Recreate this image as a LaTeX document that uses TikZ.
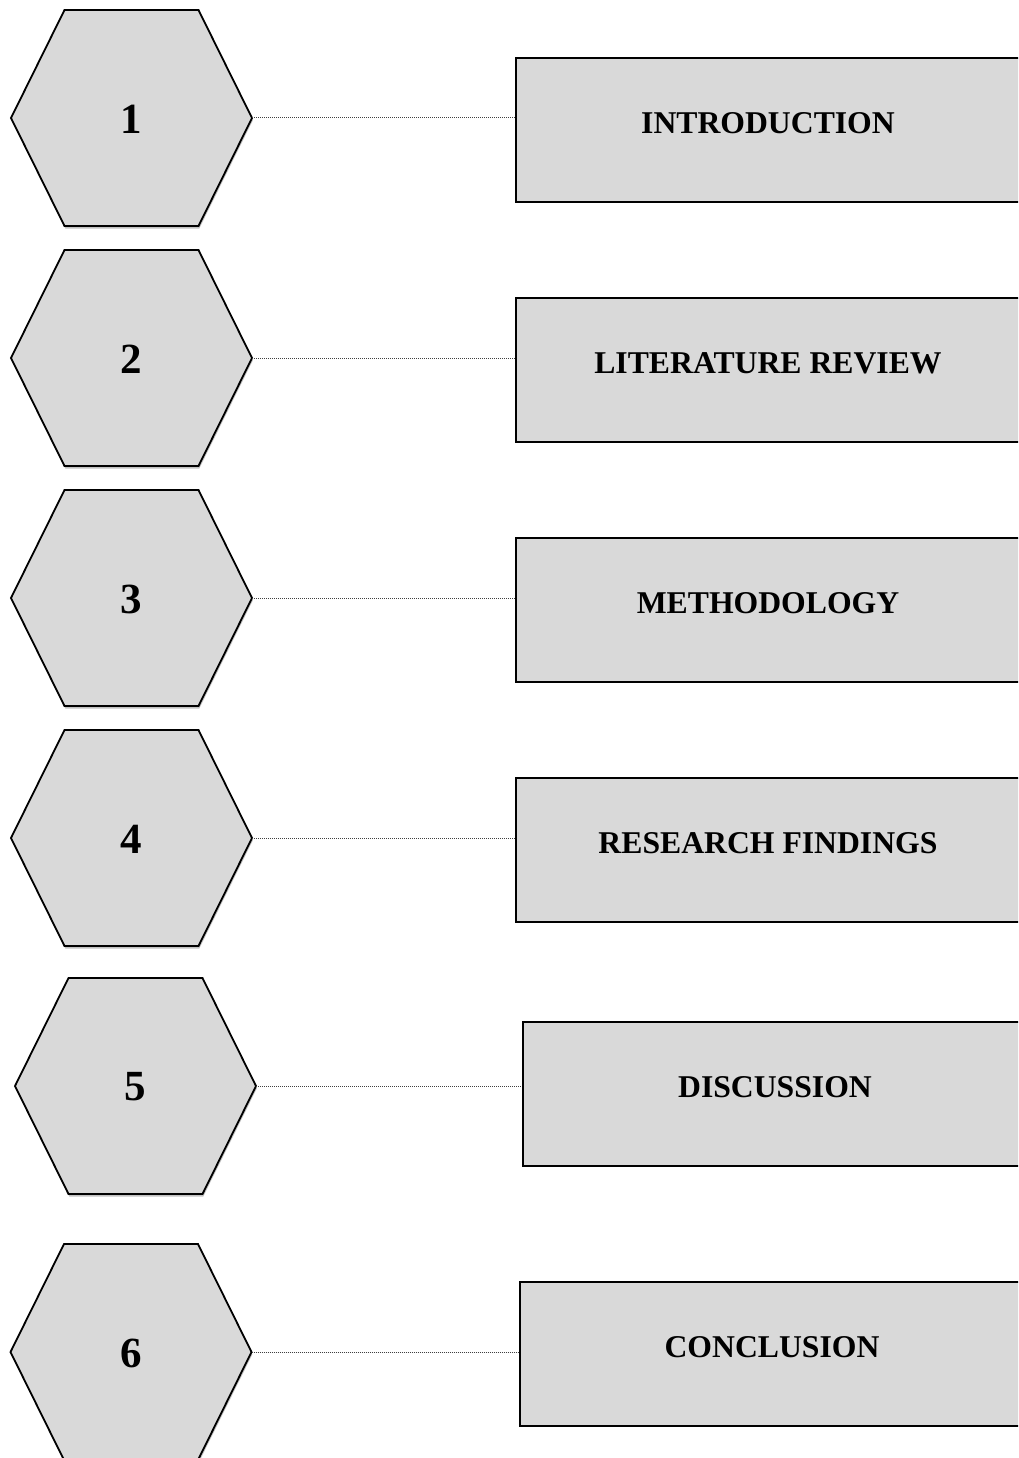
\documentclass[tikz,border=0pt]{standalone}
\usepackage{fontspec}
\setmainfont{Liberation Serif}
\usetikzlibrary{calc,shadows}
\definecolor{fillgray}{HTML}{D9D9D9}
\tikzset{
  hexsty/.style={draw=black, line width=1.8pt, fill=fillgray, line join=miter,
    drop shadow={shadow xshift=0.8pt, shadow yshift=-2.5pt, fill=black!40, opacity=0.6}},
  numsty/.style={font=\fontsize{43}{43}\selectfont\bfseries, inner sep=0pt},
  boxsty/.style={draw=black, line width=2pt, fill=fillgray, rectangle,
    minimum width=504pt, minimum height=144pt, inner sep=0pt, anchor=west},
  labsty/.style={font=\fontsize{31.7}{32}\selectfont\bfseries, inner sep=0pt},
  linksty/.style={draw=black!75, line width=1pt, dash pattern=on 1pt off 1pt}
}
\newcommand{\hexnode}[4]{%
  \coordinate (#1) at (#2,#3);
  \path[hexsty] ($(#1)+(-120.5,0)$) -- ($(#1)+(-67,108)$) -- ($(#1)+(67,108)$)
    -- ($(#1)+(120.5,0)$) -- ($(#1)+(67,-108)$) -- ($(#1)+(-67,-108)$) -- cycle;
  \coordinate (#1r) at ($(#1)+(120.5,0)$);
  \node[numsty] (#1n) at ($(#1)+(0,-1)$) {#4};
}
\begin{document}
\begin{tikzpicture}[x=1pt,y=1pt]
\useasboundingbox (0,0) rectangle (1018,-1458);
\clip (0,0) rectangle (1018,-1458);
\fill[white] (0,0) rectangle (1018,-1458);

\hexnode{h1}{131.5}{-118}{1}
\hexnode{h2}{131.5}{-358}{2}
\hexnode{h3}{131.5}{-598}{3}
\hexnode{h4}{131.5}{-838}{4}
\hexnode{h5}{135.5}{-1086}{5}
\hexnode{h6}{131}{-1352}{6}

\node[boxsty] (b1) at (515,-130) {};
\node[boxsty] (b2) at (515,-370) {};
\node[boxsty] (b3) at (515,-610) {};
\node[boxsty] (b4) at (515,-850) {};
\node[boxsty] (b5) at (522,-1094) {};
\node[boxsty] (b6) at (519,-1353.5) {};

\node[labsty] (t1) at ([yshift=6.5pt]b1.center) {INTRODUCTION};
\node[labsty] (t2) at ([yshift=6.5pt]b2.center) {LITERATURE REVIEW};
\node[labsty] (t3) at ([yshift=6.5pt]b3.center) {METHODOLOGY};
\node[labsty] (t4) at ([yshift=6.5pt]b4.center) {RESEARCH FINDINGS};
\node[labsty] (t5) at ([yshift=6.5pt]b5.center) {DISCUSSION};
\node[labsty] (t6) at ([yshift=6.5pt]b6.center) {CONCLUSION};

\foreach \i in {1,...,6}{
  \draw[linksty] (h\i r) -- (h\i r -| b\i.west);
}
\end{tikzpicture}
\end{document}
